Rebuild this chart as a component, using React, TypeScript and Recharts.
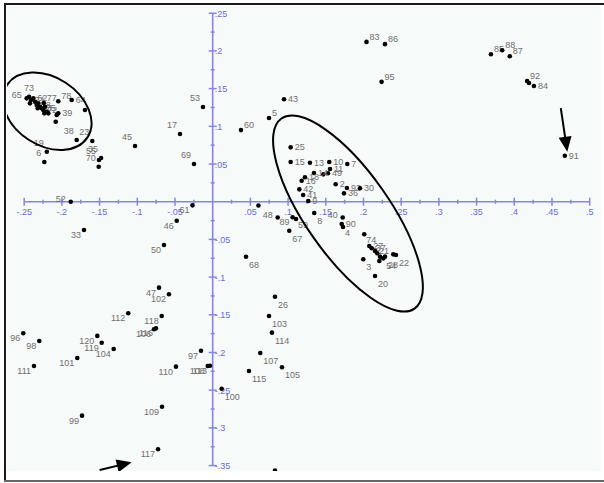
import { ScatterChart, Scatter, XAxis, YAxis, ReferenceLine } from 'recharts';

// observation numbers with their scores on the two dimensions
const pointIds = [
  // upper-left group
  '65', '73', '71', '62', '80', '58', '81', '66', '63', '75', '72', '79', '76', '82', '1', '12',
  '77', '24', '39', '29', '78', '64', '51',
  // left, middle
  '38', '23', '19', '6', '35', '55', '70', '45', '17', '53', '69', '60', '5', '43',
  // upper-right
  '83', '86', '95', '85', '88', '87', '92', '94', '84', '91',
  // centre, above axis
  '25', '15', '13', '10', '7', '11', '49', '44', '14', '18', '16', '42', '41', '9', '2', '93', '30', '36',
  // centre, below axis
  '57', '48', '89', '59', '67', '8', '40', '90', '4', '74', '27', '37', '21', '31', '56', '54', '28',
  '32', '34', '22', '68', '3', '20',
  // lower-left
  '52', '33', '61', '46', '50', '47', '102', '112', '118', '106', '116', '96', '98', '120', '119',
  '104', '101', '111', '110', '97', '108', '113', '100', '109', '99', '117',
  // lower-middle
  '26', '103', '114', '107', '105', '115', '121',
];

const dim1 = [
  -0.2467, -0.2436, -0.241, -0.2379, -0.2357, -0.2334, -0.2313, -0.229, -0.2321, -0.2268, -0.2247, -0.2224,
  -0.2202, -0.218, -0.2233, -0.2423, -0.224, -0.2069, -0.2048, -0.2082, -0.2048, -0.187, -0.1694,
  -0.1804, -0.1597, -0.22, -0.2233, -0.148, -0.1508, -0.1512, -0.103, -0.0434, -0.0129, -0.0248, 0.0375,
  0.0747, 0.0946,
  0.204, 0.2285, 0.224, 0.369, 0.384, 0.394, 0.417, 0.4195, 0.426, 0.467,
  0.1034, 0.1034, 0.129, 0.1546, 0.1785, 0.1556, 0.1529, 0.1467, 0.1343, 0.1224, 0.118, 0.1149, 0.12,
  0.1268, 0.1631, 0.178, 0.1954, 0.1741,
  0.0607, 0.0862, 0.106, 0.1105, 0.1016, 0.1347, 0.1724, 0.1711, 0.1728, 0.201, 0.2077, 0.2109, 0.2153,
  0.2183, 0.2219, 0.2263, 0.2285, 0.221, 0.2395, 0.2431, 0.0442, 0.1997, 0.2153,
  -0.1883, -0.1707, -0.0268, -0.0477, -0.0646, -0.0712, -0.058, -0.112, -0.0676, -0.0779, -0.0752,
  -0.2512, -0.23, -0.153, -0.1472, -0.1313, -0.1796, -0.237, -0.0487, -0.0155, -0.0066, -0.0036,
  0.0119, -0.0672, -0.1733, -0.0725,
  0.0826, 0.0747, 0.0786, 0.0631, 0.0919, 0.0481, 0.0826,
];

const dim2 = [
  0.1371, 0.1393, 0.1349, 0.1371, 0.1326, 0.1282, 0.1305, 0.126, 0.1239, 0.1239, 0.1216, 0.126,
  0.1194, 0.1172, 0.1172, 0.1305, 0.131, 0.115, 0.1172, 0.1061, 0.1332, 0.1349, 0.1216,
  0.0818, 0.0805, 0.0663, 0.0527, 0.058, 0.0553, 0.0464, 0.0739, 0.0898, 0.1256, 0.05, 0.095,
  0.111, 0.136,
  0.212, 0.209, 0.159, 0.1955, 0.201, 0.193, 0.16, 0.1574, 0.1535, 0.061,
  0.0721, 0.0527, 0.0517, 0.0527, 0.05, 0.0434, 0.0377, 0.0363, 0.038, 0.0324, 0.0279, 0.0164, 0.0089,
  0.001, 0.0231, 0.0182, 0.0178, 0.0111,
  -0.005, -0.021, -0.0207, -0.023, -0.0385, -0.015, -0.021, -0.0296, -0.0336, -0.0432, -0.0588, -0.0618,
  -0.0654, -0.0684, -0.0729, -0.0751, -0.0729, -0.0786, -0.0698, -0.0707, -0.073, -0.0764, -0.0985,
  0, -0.0375, -0.0048, -0.0252, -0.0574, -0.114, -0.1228, -0.148, -0.1516, -0.1692, -0.168,
  -0.1745, -0.1847, -0.178, -0.187, -0.1954, -0.2073, -0.2179, -0.2188, -0.1976, -0.2179, -0.2175,
  -0.248, -0.2719, -0.2838, -0.3284,
  -0.126, -0.1516, -0.1737, -0.2007, -0.2196, -0.2245, -0.3565,
];

const xTicks = [-0.25, -0.2, -0.15, -0.1, -0.05, 0.05, 0.1, 0.15, 0.2, 0.25, 0.3, 0.35, 0.4, 0.45, 0.5];
const xTickLabels = ['-.25', '-.2', '-.15', '-.1', '-.05', '.05', '.1', '.15', '.2', '.25', '.3', '.35', '.4', '.45', '.5'];
const yTicks = [0.25, 0.2, 0.15, 0.1, 0.05, -0.05, -0.1, -0.15, -0.2, -0.25, -0.3, -0.35];
const yTickLabels = ['.25', '.2', '.15', '.1', '.05', '-.05', '-.1', '-.15', '-.2', '-.25', '-.3', '-.35'];

// where each number sits around its dot (default: right)
type Side = 'r' | 'ur' | 'u' | 'ul' | 'l' | 'bl' | 'b' | 'br' | 'n';
const labelSide: Record<string, Side> = {
  '65': 'l', '73': 'u', '77': 'ur', '78': 'ur', '64': 'r',
  '80': 'n', '81': 'n', '66': 'n', '79': 'n', '76': 'n', '82': 'n', '1': 'n', '12': 'n', '24': 'n',
  '29': 'n', '51': 'n',
  '38': 'ul', '23': 'ul', '19': 'ul', '6': 'ul', '35': 'ul', '55': 'ul', '70': 'ul', '45': 'ul',
  '17': 'ul', '53': 'ul', '69': 'ul', '60': 'ur', '5': 'ur',
  '83': 'ur', '86': 'ur', '95': 'ur', '85': 'ur', '88': 'ur', '87': 'ur', '92': 'ur', '94': 'n',
  '44': 'n', '57': 'n', '121': 'n',
  '48': 'l', '89': 'bl', '59': 'b', '67': 'br', '8': 'br', '40': 'l', '4': 'b', '74': 'b',
  '31': 'n', '56': 'n', '32': 'n', '34': 'n', '54': 'br', '28': 'br', '22': 'br',
  '68': 'br', '3': 'br', '20': 'br',
  '52': 'l', '100': 'br', '26': 'br', '103': 'br', '114': 'br', '107': 'br', '105': 'br', '115': 'br',
};
for (const id of ['33', '61', '46', '50', '47', '102', '112', '118', '106', '116', '96', '98', '120', '119',
  '104', '101', '111', '110', '97', '108', '113', '109', '99', '117']) {
  labelSide[id] = 'bl';
}

const sideOffset: Record<Side, [number, number, 'start' | 'middle' | 'end']> = {
  r: [4, 3, 'start'],
  ur: [3, -2, 'start'],
  u: [0, -6, 'middle'],
  ul: [-3, -6, 'end'],
  l: [-5, 0, 'end'],
  bl: [-3, 8, 'end'],
  b: [2, 9, 'start'],
  br: [3, 11, 'start'],
  n: [0, 0, 'start'],
};

const points = pointIds.map((id, i) => ({ id, x: dim1[i], y: dim2[i] }));

const withZero = (ticks: number[]) => [...ticks, 0].sort((a, b) => a - b);
const midpoints = (ticks: number[]) => ticks.slice(1).map((t, i) => (t + ticks[i]) / 2);

const xMajor = xTicks.map((v, i) => ({ x: v, y: 0, label: xTickLabels[i] }));
const yMajor = yTicks.map((v, i) => ({ x: 0, y: v, label: yTickLabels[i] }));
const xMinor = midpoints(withZero(xTicks)).map((v) => ({ x: v, y: 0 }));
const yMinor = midpoints(withZero(yTicks)).map((v) => ({ x: 0, y: v }));

// annotations: ellipses around the two groups, arrows to 91 and 117
const ellipses = [
  { x: -0.2195, y: 0.12, rx: 48, ry: 34, angle: 33 },
  { x: 0.1794, y: -0.0157, rx: 116, ry: 42, angle: 55 },
];
const arrows = [
  { x: 0.4703, y: 0.0663, len: 44, angle: 81.5 },
  { x: -0.1074, y: -0.3456, len: 33, angle: -13.7 },
];

const AXIS = '#8585e6';
const AXIS_TEXT = '#6a6ad8';
const FONT = '"Liberation Sans", Arial, sans-serif';

const PointMark = (props: any) => {
  const { cx, cy, payload } = props;
  const side: Side = labelSide[payload.id] ?? 'r';
  const [dx, dy, anchor] = sideOffset[side];
  return (
    <g>
      <circle cx={cx} cy={cy} r={2.3} fill="#000" />
      {side !== 'n' && (
        <text x={cx + dx} y={cy + dy} textAnchor={anchor} fontSize={9} fill="#6f6f6f" fontFamily={FONT}>
          {payload.id}
        </text>
      )}
    </g>
  );
};

const XTick = (props: any) => {
  const { cx, cy, payload } = props;
  return (
    <g>
      <line x1={cx} y1={cy - 4} x2={cx} y2={cy + 4} stroke={AXIS} strokeWidth={1.5} />
      <text x={cx} y={cy + 13} textAnchor="middle" fontSize={9} fill={AXIS_TEXT} fontFamily={FONT}>
        {payload.label}
      </text>
    </g>
  );
};

const YTick = (props: any) => {
  const { cx, cy, payload } = props;
  return (
    <g>
      <line x1={cx - 4} y1={cy} x2={cx + 4} y2={cy} stroke={AXIS} strokeWidth={1.5} />
      <text x={cx + 2} y={cy + 3.5} textAnchor="start" fontSize={9} fill={AXIS_TEXT} fontFamily={FONT}>
        {payload.label}
      </text>
    </g>
  );
};

const XMinor = (props: any) => (
  <line x1={props.cx} y1={props.cy - 2} x2={props.cx} y2={props.cy + 2} stroke={AXIS} strokeWidth={1.5} />
);
const YMinor = (props: any) => (
  <line x1={props.cx - 2} y1={props.cy} x2={props.cx + 2} y2={props.cy} stroke={AXIS} strokeWidth={1.5} />
);

const EllipseMark = (props: any) => {
  const { cx, cy, payload } = props;
  return (
    <ellipse
      cx={cx}
      cy={cy}
      rx={payload.rx}
      ry={payload.ry}
      transform={`rotate(${payload.angle} ${cx} ${cy})`}
      fill="none"
      stroke="#000"
      strokeWidth={2}
    />
  );
};

const ArrowMark = (props: any) => {
  const { cx, cy, payload } = props;
  const { len, angle } = payload;
  return (
    <g transform={`translate(${cx} ${cy}) rotate(${angle})`}>
      <line x1={-len} y1={0} x2={-10} y2={0} stroke="#000" strokeWidth={2} />
      <polygon points="0,0 -15,-6.5 -15,6.5" fill="#000" />
    </g>
  );
};

export default function App() {
  return (
    <div style={{ position: 'absolute', left: 0, top: 0, width: 604, height: 483, background: '#fff' }}>
      <div style={{ position: 'absolute', left: 7, top: 6, width: 594, height: 465, background: '#f6faf8' }} />
      <div style={{ position: 'absolute', left: 4, top: 3, width: 600, height: 2, background: '#1a1a1a' }} />
      <div style={{ position: 'absolute', left: 4, top: 3, width: 2, height: 479, background: '#1a1a1a' }} />
      <div style={{ position: 'absolute', left: 4, top: 480, width: 600, height: 2, background: '#666' }} />
      <div style={{ position: 'absolute', left: 0, top: 0 }}>
        <ScatterChart width={604} height={483} margin={{ top: 6, right: 3, bottom: 12, left: 7 }}>
          <XAxis type="number" dataKey="x" domain={[-0.2728, 0.515]} hide allowDataOverflow />
          <YAxis type="number" dataKey="y" domain={[-0.3572, 0.2596]} hide allowDataOverflow />
          <ReferenceLine segment={[{ x: -0.25, y: 0 }, { x: 0.5, y: 0 }]} stroke={AXIS} strokeWidth={1.6} />
          <ReferenceLine segment={[{ x: 0, y: 0.25 }, { x: 0, y: -0.35 }]} stroke={AXIS} strokeWidth={1.6} />
          <Scatter data={xMinor} shape={XMinor} isAnimationActive={false} />
          <Scatter data={yMinor} shape={YMinor} isAnimationActive={false} />
          <Scatter data={xMajor} shape={XTick} isAnimationActive={false} />
          <Scatter data={yMajor} shape={YTick} isAnimationActive={false} />
          <Scatter data={points} shape={PointMark} isAnimationActive={false} />
          <Scatter data={ellipses} shape={EllipseMark} isAnimationActive={false} />
          <Scatter data={arrows} shape={ArrowMark} isAnimationActive={false} />
        </ScatterChart>
      </div>
    </div>
  );
}
